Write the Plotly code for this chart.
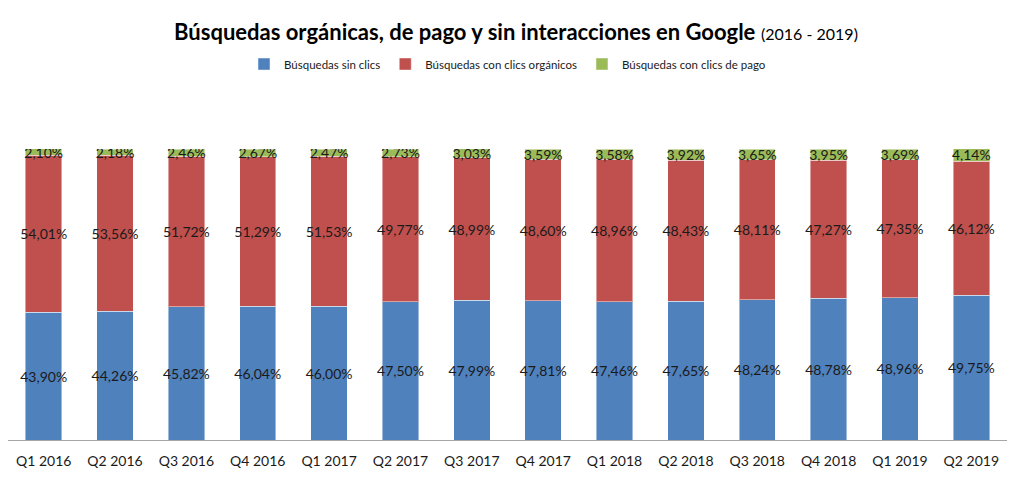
import plotly.graph_objects as go

categories = ["Q1 2016", "Q2 2016", "Q3 2016", "Q4 2016", "Q1 2017", "Q2 2017", "Q3 2017",
              "Q4 2017", "Q1 2018", "Q2 2018", "Q3 2018", "Q4 2018", "Q1 2019", "Q2 2019"]
sin_clics = [43.90, 44.26, 45.82, 46.04, 46.00, 47.50, 47.99, 47.81, 47.46, 47.65, 48.24, 48.78, 48.96, 49.75]
organicos = [54.01, 53.56, 51.72, 51.29, 51.53, 49.77, 48.99, 48.60, 48.96, 48.43, 48.11, 47.27, 47.35, 46.12]
pago = [2.10, 2.18, 2.46, 2.67, 2.47, 2.73, 3.03, 3.59, 3.58, 3.92, 3.65, 3.95, 3.69, 4.14]

series = [
    ("Búsquedas sin clics", sin_clics, "#4F81BD"),
    ("Búsquedas con clics orgánicos", organicos, "#C0504D"),
    ("Búsquedas con clics de pago", pago, "#9BBB59"),
]

FONT = "Lato, Open Sans, sans-serif"

fig = go.Figure()
for name, vals, color in series:
    fig.add_trace(go.Bar(
        x=categories, y=vals, name=name,
        marker=dict(color=color, line=dict(color="rgba(255,255,255,0.45)", width=1)),
        text=[f"{v:.2f}%".replace(".", ",") for v in vals],
        textposition="inside", insidetextanchor="middle", constraintext="none",
        textfont=dict(family=FONT, size=14, color="#1a1a1a"),
        textangle=0,
        hoverinfo="skip",
    ))

fig.update_layout(
    barmode="stack",
    bargap=0.49,
    width=1016, height=471,
    margin=dict(l=0, r=17, t=141, b=39, autoexpand=False),
    paper_bgcolor="white", plot_bgcolor="white",
    title=dict(
        text="<b>Búsquedas orgánicas, de pago y sin interacciones en Google</b> <span style='font-size:16px'>(2016 - 2019)</span>",
        x=0.5, xanchor="center", y=0.949, yanchor="middle",
        font=dict(family=FONT, size=22, color="#000000"),
    ),
    legend=dict(
        orientation="h", x=0.5, xanchor="center", y=1.292, yanchor="middle",
        font=dict(family=FONT, size=11.5, color="#1a1a1a"),
        itemwidth=30, traceorder="normal",
    ),
    xaxis=dict(
        showline=True, linecolor="#a6a6a6", linewidth=1, ticks="",
        tickfont=dict(family=FONT, size=14, color="#1a1a1a"),
        ticklabelstandoff=8,
        fixedrange=True,
    ),
    yaxis=dict(range=[0, 100], visible=False, showgrid=False, fixedrange=True),
    showlegend=True,
)

fig.write_html("out.html")
